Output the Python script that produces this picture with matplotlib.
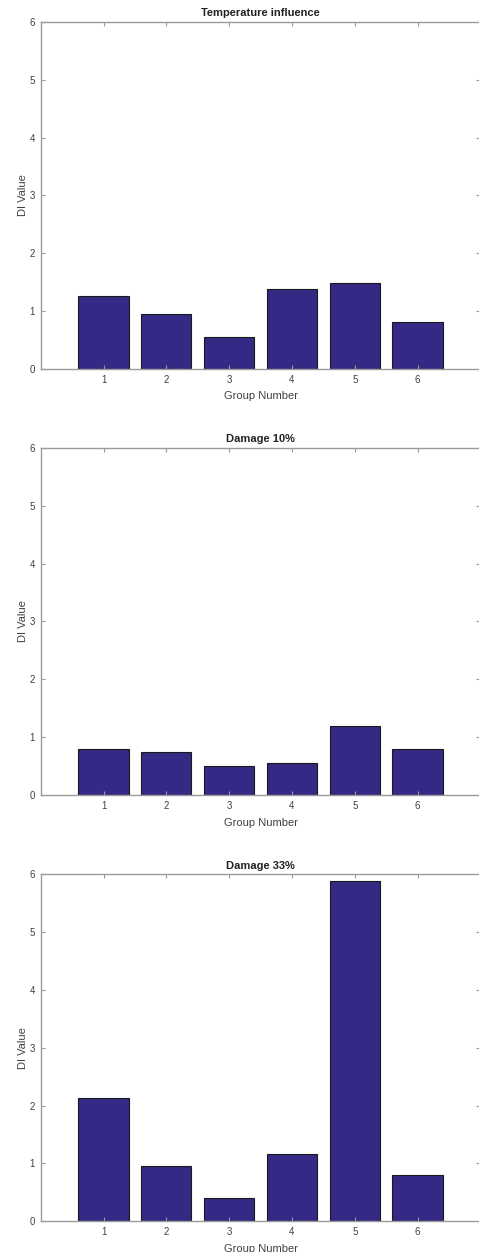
import matplotlib
matplotlib.use("Agg")
import matplotlib.pyplot as plt

groups = [1, 2, 3, 4, 5, 6]
titles = ["Temperature influence", "Damage 10%", "Damage 33%"]
di_temperature = [1.27, 0.95, 0.55, 1.38, 1.48, 0.81]
di_damage10 = [0.79, 0.74, 0.50, 0.555, 1.20, 0.80]
di_damage33 = [2.13, 0.96, 0.41, 1.17, 5.89, 0.80]

plt.rcParams['font.family'] = ['Liberation Sans', 'DejaVu Sans']

bar_color = '#342a85'
axis_color = '#9a9a9a'
text_color = '#404040'

fig = plt.figure(figsize=(4.79, 12.52), dpi=100)
bottoms = [0.7053, 0.365, 0.0245]
series = [di_temperature, di_damage10, di_damage33]

for title, vals, b in zip(titles, series, bottoms):
    ax = fig.add_axes([0.085, b, 0.918, 0.2772])
    ax.bar(groups, vals, width=0.8, color=bar_color, edgecolor='#1a1a1a', linewidth=0.8)
    ax.set_xlim(0, 7)
    ax.set_ylim(0, 6)
    ax.set_xticks(groups)
    ax.set_yticks(range(0, 7))
    for s in ax.spines.values():
        s.set_color(axis_color)
        s.set_linewidth(1.0)
    ax.tick_params(direction='in', length=3, width=0.8, color=axis_color,
                   labelcolor=text_color, labelsize=7, top=True, right=True, pad=4)
    ax.set_title(title, fontsize=8, fontweight='bold', color='#222222', pad=4)
    ax.set_xlabel('Group Number', fontsize=8, color=text_color, labelpad=5)
    ax.set_ylabel('DI Value', fontsize=8, color=text_color, labelpad=1)

fig.savefig('out.png', dpi=100)
